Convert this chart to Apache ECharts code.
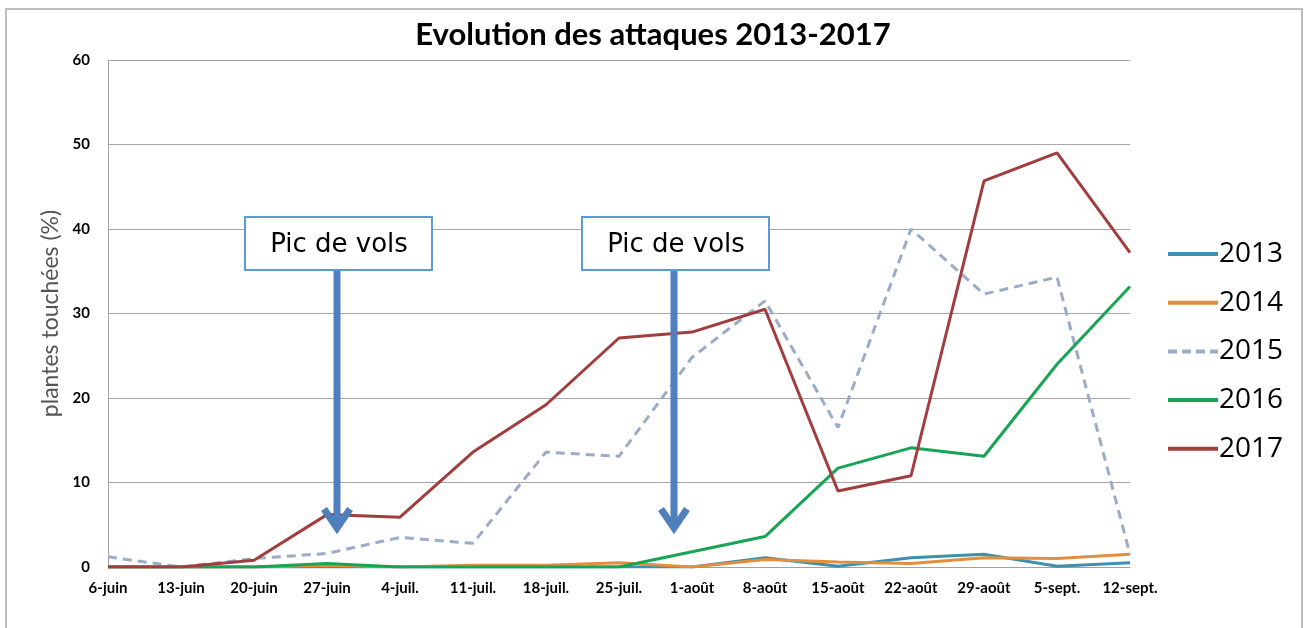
<!DOCTYPE html>
<html>
<head>
<meta charset="utf-8">
<script src="https://cdn.jsdelivr.net/npm/echarts@6/dist/echarts.min.js"></script>
<style>
  html, body { margin: 0; padding: 0; background: #fff; }
  #chart-container { width: 1306px; height: 628px; }
</style>
</head>
<body>
<div id="chart-container"></div>
<script>
var weeks = ['6-juin', '13-juin', '20-juin', '27-juin', '4-juil.', '11-juil.', '18-juil.', '25-juil.',
  '1-août', '8-août', '15-août', '22-août', '29-août', '5-sept.', '12-sept.'];
var years = ['2013', '2014', '2015', '2016', '2017'];
var yTicks = [0, 10, 20, 30, 40, 50, 60];

var y2013 = [0, 0, 0, 0, 0, 0, 0, 0, 0, 1.1, 0.1, 1.1, 1.5, 0.1, 0.5];
var y2014 = [0, 0, 0, 0.2, 0, 0.2, 0.2, 0.5, 0, 0.9, 0.6, 0.4, 1.1, 1.0, 1.5];
var y2015 = [1.2, 0, 1.0, 1.6, 3.5, 2.8, 13.6, 13.1, 24.8, 31.5, 16.5, 40, 32.3, 34.3, 1.5];
var y2016 = [0, 0, 0, 0.4, 0, 0, 0, 0, 1.8, 3.6, 11.7, 14.1, 13.1, 24, 33.2];
var y2017 = [0, 0, 0.8, 6.2, 5.9, 13.6, 19.2, 27.1, 27.8, 30.5, 9.0, 10.8, 45.7, 49.0, 37.2];

var colors = ['#3f8fae', '#e28e3c', '#9babc8', '#18a553', '#a23d3d'];

// legend keys drawn as plain strokes (50 x 4)
var solidKey = 'path://M0,0 L50,0 L50,4 L0,4 Z';
var dashKey = 'path://M0,0h9v4h-9z M14,0h9v4h-9z M28,0h9v4h-9z M42,0h8v4h-8z';

var dom = document.getElementById('chart-container');
var myChart = echarts.init(dom, null, { renderer: 'canvas' });

function mkSeries(name, data, color, dashed) {
  return {
    name: name,
    type: 'line',
    data: data,
    symbol: 'none',
    smooth: false,
    lineStyle: { color: color, width: 3, type: dashed ? [9, 6] : 'solid' },
    itemStyle: { color: color }
  };
}

// arrow "Pic de vols" : box + shaft + chevron
function picDeVols(bx, ax) {
  var arrowCol = '#4f7fbd';
  return [
    { type: 'rect', z: 100, shape: { x: bx, y: 217, width: 187, height: 53 },
      style: { fill: '#fff', stroke: '#5b9bd5', lineWidth: 2 } },
    { type: 'text', z: 101, x: bx + 94, y: 245,
      style: { text: 'Pic de vols', font: '26px "DejaVu Sans"', fill: '#000',
        textAlign: 'center', textVerticalAlign: 'middle' } },
    { type: 'line', z: 100, shape: { x1: ax, y1: 271, x2: ax, y2: 526 },
      style: { stroke: arrowCol, lineWidth: 7 } },
    { type: 'polyline', z: 100, shape: { points: [[ax - 13, 509], [ax, 528], [ax + 13, 509]] },
      style: { stroke: arrowCol, lineWidth: 7, fill: null, lineJoin: 'miter', lineCap: 'butt' } }
  ];
}

var option = {
  animation: false,
  backgroundColor: '#fff',
  title: {
    text: 'Evolution des attaques 2013-2017',
    left: 'center',
    top: 14,
    textStyle: { fontFamily: 'Lato', fontWeight: 'bold', fontSize: 31, color: '#000' }
  },
  legend: {
    orient: 'vertical',
    left: 1163,
    top: 234,
    itemWidth: 50,
    itemHeight: 4,
    itemGap: 18.7,
    data: years.map(function (y, i) {
      return { name: y, icon: i === 2 ? dashKey : solidKey };
    }),
    textStyle: { fontFamily: 'Open Sans', fontSize: 28, color: '#000', lineHeight: 30, padding: [0, 0, 0, -4] }
  },
  grid: { left: 108, right: 176, top: 60, bottom: 61, containLabel: false },
  xAxis: {
    type: 'category',
    data: weeks,
    boundaryGap: false,
    axisLine: { lineStyle: { color: '#a0a0a0', width: 1 } },
    axisTick: { show: false },
    axisLabel: { fontFamily: 'Lato', fontWeight: 'bold', fontSize: 15, color: '#000', margin: 14, interval: 0 }
  },
  yAxis: {
    type: 'value',
    min: yTicks[0],
    max: yTicks[yTicks.length - 1],
    interval: 10,
    name: 'plantes touchées (%)',
    nameLocation: 'middle',
    nameGap: 44,
    nameTextStyle: { fontFamily: 'Lato', fontSize: 23, color: '#555' },
    axisLine: { show: true, lineStyle: { color: '#a0a0a0', width: 1 } },
    axisTick: { show: false },
    splitLine: { lineStyle: { color: '#a6a6a6', width: 1 } },
    axisLabel: { fontFamily: 'Lato', fontWeight: 'bold', fontSize: 15, color: '#000', margin: 18 }
  },
  series: [
    mkSeries('2013', y2013, colors[0], false),
    mkSeries('2014', y2014, colors[1], false),
    mkSeries('2015', y2015, colors[2], true),
    mkSeries('2016', y2016, colors[3], false),
    mkSeries('2017', y2017, colors[4], false)
  ],
  graphic: [
    { type: 'rect', z: 0, silent: true, shape: { x: 6, y: 9, width: 1296, height: 640 },
      style: { fill: null, stroke: '#bdbdbd', lineWidth: 2 } }
  ].concat(picDeVols(245, 337), picDeVols(582, 674))
};

if (option && typeof option === 'object') {
  myChart.setOption(option);
}

window.addEventListener('resize', myChart.resize);
</script>
</body>
</html>
